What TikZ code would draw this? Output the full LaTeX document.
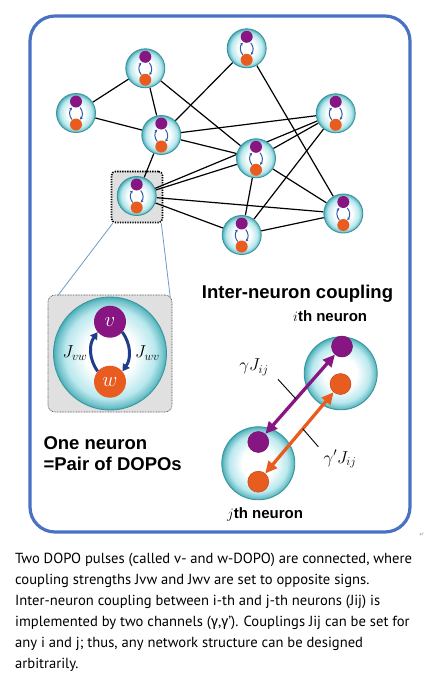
\documentclass[tikz,border=0pt]{standalone}
\usepackage{fontspec}
\setmainfont{PT Sans}
\newfontfamily\labfont{Liberation Sans}
\newfontfamily\grkfont{Fira Sans}
\newfontfamily\symfont{DejaVu Sans}
\usetikzlibrary{arrows.meta,backgrounds,calc}
\definecolor{frameblue}{RGB}{74,114,196}
\definecolor{vpurple}{RGB}{135,22,130}
\definecolor{worange}{RGB}{232,92,32}
\definecolor{nrim}{RGB}{70,175,185}
\definecolor{ncyan}{RGB}{185,232,238}
\definecolor{navy}{RGB}{30,62,140}
\definecolor{minib}{RGB}{50,90,170}
\definecolor{boxgray}{RGB}{224,224,224}
\definecolor{leadblue}{RGB}{110,155,200}
\pgfdeclareradialshading{neuronshade}{\pgfpoint{0bp}{0bp}}{color(0bp)=(white); color(11bp)=(white); color(20bp)=(ncyan); color(23.5bp)=(nrim!75); color(25bp)=(nrim); color(50bp)=(nrim)}
\tikzset{
  cell/.style={circle, inner sep=0pt, draw=nrim!85!black, line width=0.9pt, shade, shading=neuronshade},
  minineuron/.style={cell, minimum size=39pt, path picture={
     \coordinate (pc) at (path picture bounding box.center);
     \fill[vpurple] ([yshift=11.5pt]pc) circle (6pt);
     \fill[worange] ([yshift=-11.5pt]pc) circle (6pt);
     \draw[minib, line width=1pt, -{Stealth[length=2.8pt,width=3pt]}] ([shift={(-4pt,-6.5pt)}]pc) to[bend left=40] ([shift={(-4pt,5.5pt)}]pc);
     \draw[minib, line width=1pt, -{Stealth[length=2.8pt,width=3pt]}] ([shift={(4pt,5.5pt)}]pc) to[bend left=40] ([shift={(4pt,-6.5pt)}]pc);
  }},
  netline/.style={black, line width=1.2pt},
  dotp/.style={circle, inner sep=0pt, minimum size=21pt, fill=vpurple, draw=vpurple!80!black, line width=0.5pt},
  doto/.style={circle, inner sep=0pt, minimum size=21pt, fill=worange, draw=worange!80!black, line width=0.5pt},
  boldlab/.style={inner sep=0pt, anchor=base west, font=\labfont\bfseries\fontsize{18.5}{20}\selectfont},
  sublab/.style={inner sep=0pt, anchor=base west, font=\labfont\bfseries\fontsize{15}{17}\selectfont},
  captext/.style={inner sep=0pt, anchor=base west, font=\fontsize{14.6}{18}\selectfont},
  leaderline/.style={black, line width=0.9pt},
  linkline/.style={leadblue, line width=0.8pt},
}
\begin{document}
\begin{tikzpicture}[x=1pt,y=-1pt]
\useasboundingbox (0,0) rectangle (435,689);
% frame
\draw[frameblue, line width=3.2pt, rounded corners=25pt] (30,16) rectangle (410,532);
% network neurons
\node[minineuron] (a) at (76,113) {};
\node[minineuron] (b) at (145.3,68.3) {};
\node[minineuron] (c) at (246.7,48.3) {};
\node[minineuron] (d) at (161.3,135) {};
\node[minineuron] (e) at (335.7,113.3) {};
\node[minineuron] (f) at (256,158.3) {};
\node[minineuron] (g) at (136.7,196) {};
\node[minineuron] (h) at (343.3,213.5) {};
\node[minineuron] (i) at (241.7,235) {};
\begin{scope}[on background layer]
  \fill[white] (0,0) rectangle (435,689);
  \node[rounded corners=4pt, fill=boxgray, draw=black, line width=1.6pt, dash pattern=on 1.3pt off 1.2pt, minimum size=51pt, inner sep=0pt] (gbox) at (137,197) {};
  \draw[netline] (a) -- (b);
  \draw[netline] (a) -- (d);
  \draw[netline] (b) -- (d);
  \draw[netline] (b) -- (f);
  \draw[netline] (c) -- (d);
  \draw[netline] (c) -- (h);
  \draw[netline] (d) -- (e);
  \draw[netline] (d) -- (f);
  \draw[netline] (d) -- (g);
  \draw[netline] (e) -- (f);
  \draw[netline] (g) -- (e);
  \draw[netline] (e) -- (i);
  \draw[netline] (f) -- (i);
  \draw[netline] (f) -- (h);
  \draw[netline] (g) -- (f);
  \draw[netline] (g) -- (h);
  \draw[netline] (g) -- (i);
  \draw[netline] (i) -- (h);
\end{scope}
% zoomed neuron
\node[rounded corners=7pt, fill=boxgray, draw=black!70, line width=0.6pt, dash pattern=on 0.8pt off 0.8pt, minimum width=124pt, minimum height=117pt, inner sep=0pt] (bigbox) at (110,353.5) {};
\draw[linkline] ([xshift=2pt]gbox.south west) -- ([xshift=10pt,yshift=-1pt]bigbox.north west);
\draw[linkline] ([xshift=-2pt]gbox.south east) -- ([xshift=-2pt,yshift=-3pt]bigbox.north east);
\node[cell, minimum size=113pt] (bign) at (110,353.5) {};
\node[circle, inner sep=0pt, minimum size=32pt, fill=vpurple, text=white, font=\fontsize{22}{22}\selectfont] (v) at (110,321.7) {$v$};
\node[circle, inner sep=0pt, minimum size=32pt, fill=worange, text=white, font=\fontsize{22}{22}\selectfont] (w) at (110,381.7) {$w$};
\draw[navy, line width=3pt, -{Triangle[length=7pt,width=8pt]}] (w.140) to[bend left=35] (v.220);
\draw[navy, line width=3pt, -{Triangle[length=7pt,width=8pt]}] (v.320) to[bend left=35] (w.40);
\node[font=\fontsize{18}{18}\selectfont] (jvw) at (75,353) {$J_{vw}$};
\node[font=\fontsize{18}{18}\selectfont] (jwv) at (147.5,353) {$J_{wv}$};
\node[boldlab] (one1) at (43.3,449.3) {One neuron};
\node[boldlab] (one2) at (43.3,470.7) {=Pair of DOPOs};
% inter-neuron coupling
\node[boldlab] (inter) at (201.7,298.3) {Inter-neuron coupling};
\node[sublab] (ilab) at (293,321.7) {$i$th neuron};
\node[sublab] (jlab) at (227,518.3) {$j$th neuron};
\node[cell, minimum size=73pt] (ni) at (340.7,373.3) {};
\node[dotp] (ip) at (342,346.5) {};
\node[doto] (io) at (340.5,384) {};
\node[cell, minimum size=73pt] (nj) at (258.3,463.3) {};
\node[dotp] (jp) at (258.3,442) {};
\node[doto] (jo) at (258.3,481.7) {};
\draw[vpurple, line width=3.3pt, {Triangle[length=12pt,width=11pt]}-{Triangle[length=12pt,width=11pt]}] (jp.49) -- (ip.229) coordinate[pos=0.44] (pmid);
\draw[worange, line width=3.3pt, {Triangle[length=12pt,width=11pt]}-{Triangle[length=12pt,width=11pt]}] (jo.50) -- (io.230) coordinate[pos=0.55] (omid);
\node[font=\fontsize{18}{18}\selectfont] (gl) at (254,367) {$\gamma J_{ij}$};
\node[font=\fontsize{18}{18}\selectfont] (ol) at (340,459) {$\gamma' J_{ij}$};
\coordinate (gtail) at (278,379.3);
\coordinate (otail) at (318.3,446.7);
\draw[leaderline] (gtail) -- (pmid);
\draw[leaderline] (omid) -- (otail);
\node[text=black!40, font=\symfont\fontsize{6}{6}\selectfont] (pmark) at (422,535) {↵};
% caption
\node[captext] (c1) at (15,563.3) {Two DOPO pulses (called v- and w-DOPO) are connected, where};
\node[captext] (c2) at (15,584.3) {coupling strengths Jvw and Jwv are set to opposite signs.};
\node[captext] (c3) at (15,605.3) {Inter-neuron coupling between i-th and j-th neurons (Jij) is};
\node[captext] (c4) at (15,626.3) {implemented by two channels ({\grkfont γ},{\grkfont γ}'). Couplings Jij can be set for};
\node[captext] (c5) at (15,647.3) {any i and j; thus, any network structure can be designed};
\node[captext] (c6) at (15,668.3) {arbitrarily.};
\end{tikzpicture}
\end{document}
